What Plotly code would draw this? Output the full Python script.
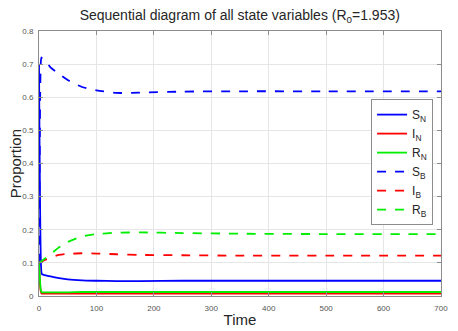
import plotly.graph_objects as go

# time points and state values
time = [0, 1, 2, 3, 4, 5, 8, 12, 20, 35, 50, 75, 100, 135, 175, 250, 350, 500, 700]

s_n = [0.70, 0.45, 0.25, 0.12, 0.075, 0.066, 0.064, 0.062, 0.059, 0.054, 0.050, 0.047, 0.046, 0.045, 0.045, 0.046, 0.046, 0.046, 0.046]
i_n = [0.10, 0.06, 0.03, 0.015, 0.009, 0.007, 0.007, 0.007, 0.007, 0.007, 0.007, 0.007, 0.007, 0.007, 0.007, 0.007, 0.007, 0.007, 0.007]
r_n = [0.10, 0.07, 0.04, 0.02, 0.013, 0.011, 0.011, 0.011, 0.011, 0.011, 0.011, 0.012, 0.012, 0.012, 0.012, 0.012, 0.012, 0.012, 0.012]
s_b = [0.10, 0.35, 0.60, 0.70, 0.72, 0.718, 0.715, 0.71, 0.69, 0.67, 0.652, 0.631, 0.621, 0.613, 0.614, 0.617, 0.618, 0.618, 0.618]
i_b = [0.10, 0.101, 0.102, 0.103, 0.104, 0.105, 0.107, 0.110, 0.116, 0.124, 0.127, 0.129, 0.128, 0.126, 0.124, 0.123, 0.122, 0.122, 0.122]
r_b = [0.10, 0.101, 0.102, 0.104, 0.105, 0.106, 0.110, 0.115, 0.126, 0.147, 0.163, 0.180, 0.187, 0.191, 0.192, 0.190, 0.188, 0.187, 0.187]

series = [
    ('S<sub>N</sub>', s_n, 'blue', 'solid'),
    ('I<sub>N</sub>', i_n, 'red', 'solid'),
    ('R<sub>N</sub>', r_n, '#00ee00', 'solid'),
    ('S<sub>B</sub>', s_b, 'blue', 'dash'),
    ('I<sub>B</sub>', i_b, 'red', 'dash'),
    ('R<sub>B</sub>', r_b, '#00ee00', 'dash'),
]

fig = go.Figure()
for name, vals, color, dash in series:
    fig.add_trace(go.Scatter(x=time, y=vals, name=name, mode='lines',
                             line=dict(color=color, width=1.8, dash=dash, shape='spline', smoothing=0.6)))

axis_style = dict(showline=True, linecolor='#8c8c8c', linewidth=1, mirror='ticks',
                  ticks='inside', ticklen=4, tickcolor='#8c8c8c', automargin=False,
                  showgrid=True, gridcolor='#e6e6e6', zeroline=False,
                  tickfont=dict(size=8, color='#555555', family='Liberation Sans'))

fig.update_xaxes(range=[0, 700], dtick=100, ticklabelstandoff=4,
                 title=dict(text='Time', font=dict(size=15, color='#262626', family='Liberation Sans'), standoff=2),
                 **axis_style)
fig.update_yaxes(range=[0, 0.8], dtick=0.1, tickformat='.1~f', ticklabelstandoff=3,
                 **axis_style)

# y title as an annotation so it sits where the reference has it
fig.add_annotation(text='Proportion', xref='paper', yref='paper', x=-0.058, y=0.5,
                   xanchor='center', yanchor='middle', textangle=-90, showarrow=False,
                   font=dict(size=15, color='#262626', family='Liberation Sans'))

# page body adds an 8px offset, so the figure is sized to fit the window
fig.update_layout(
    width=450, height=323,
    margin=dict(l=31, r=17, t=23, b=35),
    paper_bgcolor='white', plot_bgcolor='white',
    title=dict(text='Sequential diagram of all state variables (R<sub>0</sub>=1.953)',
               x=0.515, xanchor='center', y=0.977, yanchor='middle',
               font=dict(size=14, color='#262626', family='Liberation Sans')),
    legend=dict(x=0.826, y=0.743, xanchor='left', yanchor='top',
                bgcolor='white', bordercolor='#8c8c8c', borderwidth=1,
                font=dict(size=12, color='#262626', family='Liberation Sans'),
                itemwidth=30, tracegroupgap=0),
)

fig.write_html("out.html")
